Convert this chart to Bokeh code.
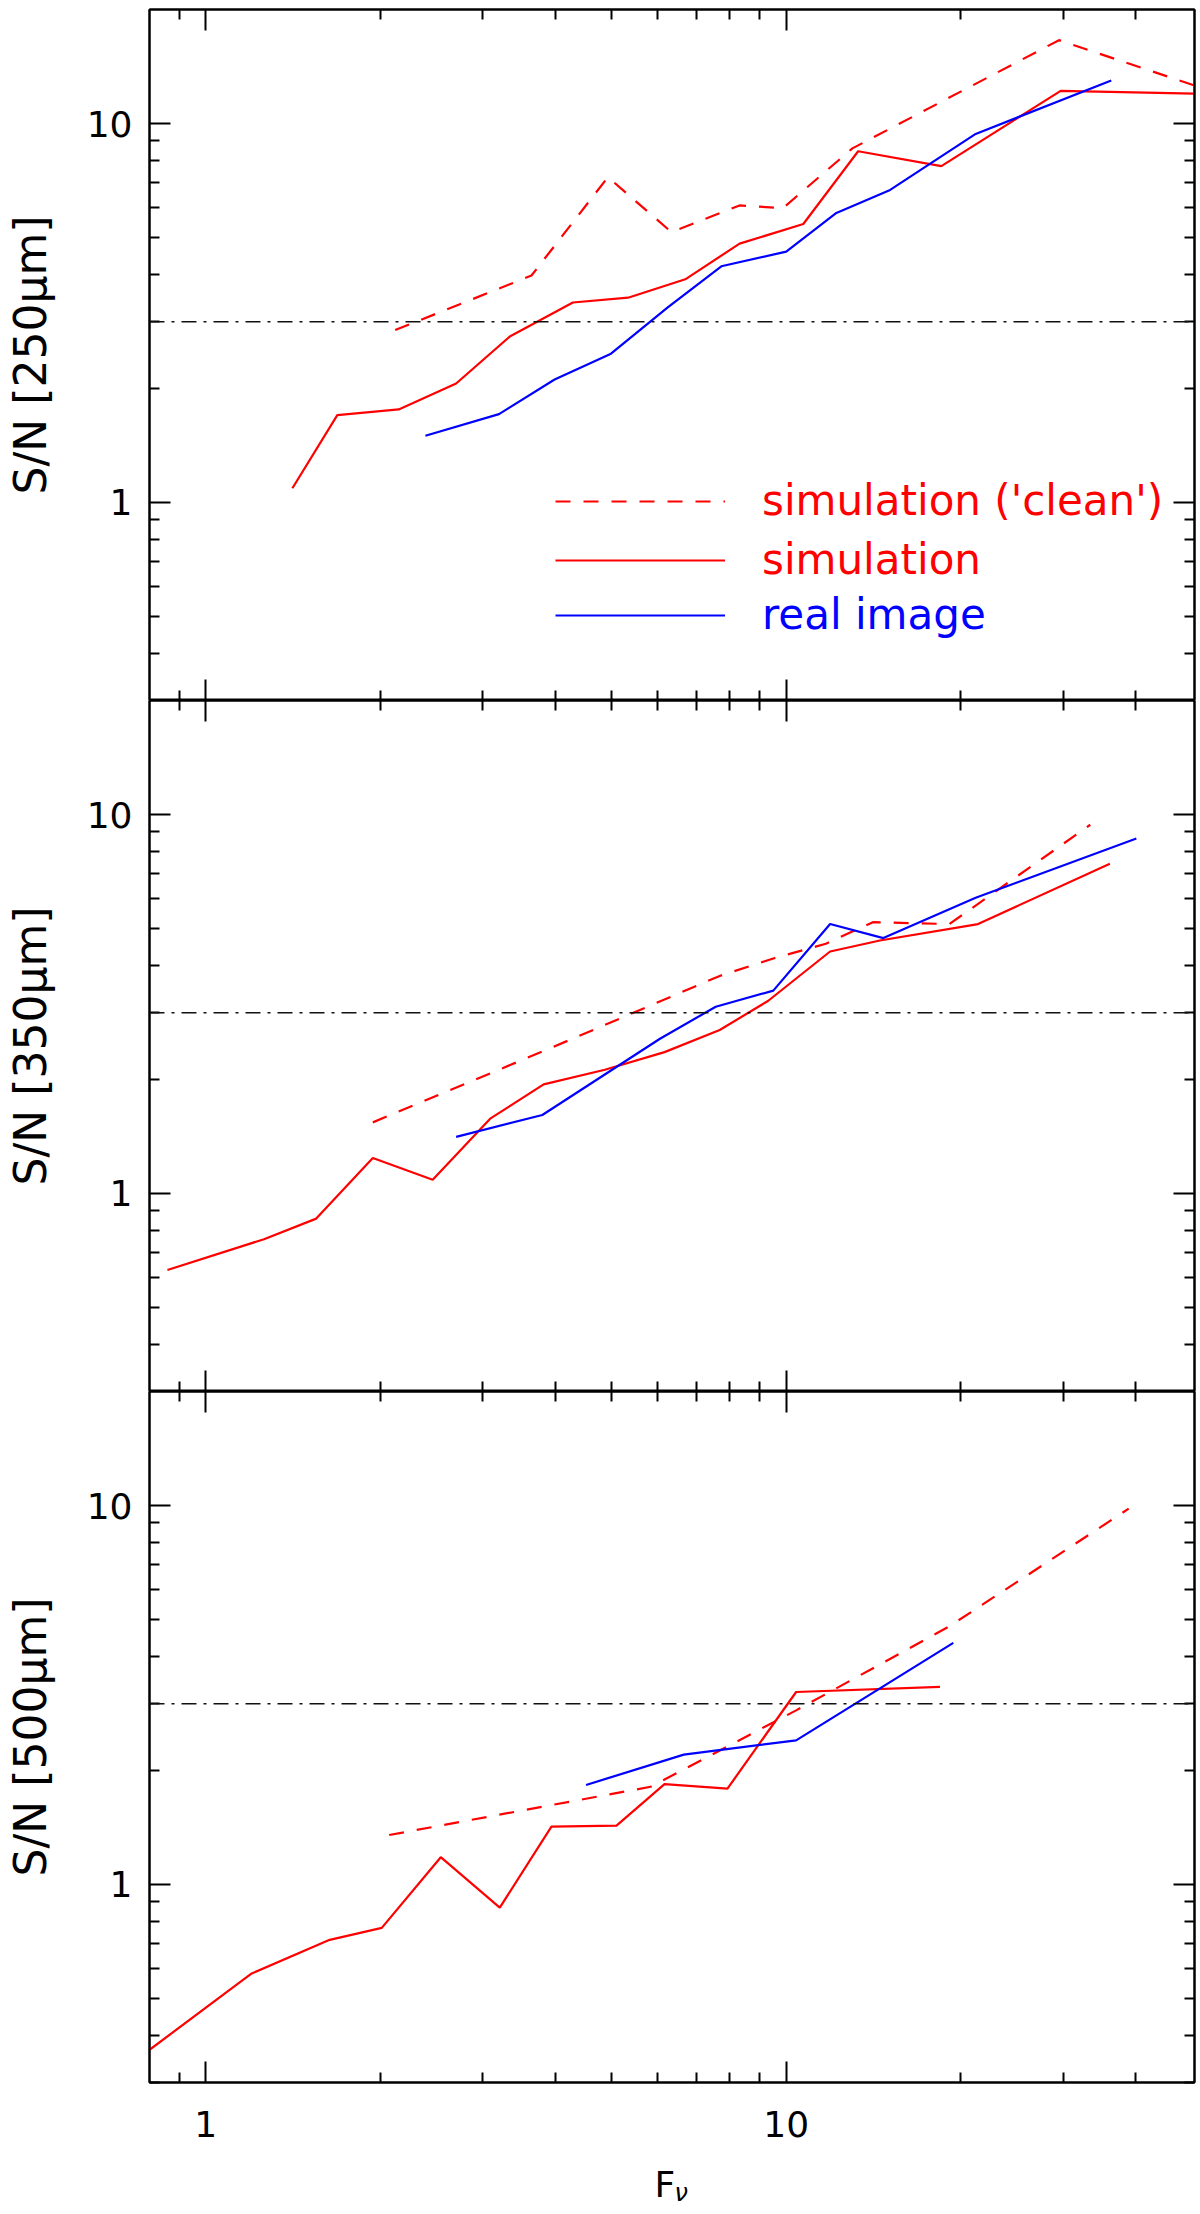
from bokeh.plotting import figure
from bokeh.layouts import column
from bokeh.models import (LogAxis, FixedTicker, NumeralTickFormatter, CustomJSTickFormatter,
                          Legend, LegendItem, Label, Span)
from bokeh.embed import file_html
from bokeh.resources import INLINE

# F_nu bins and S/N values
sim250_x = [1.41, 1.685, 2.15, 2.70, 3.34, 4.29, 5.34, 6.70, 8.31, 10.7, 13.3, 18.5, 29.7, 50.5]
sim250_y = [1.09, 1.70, 1.76, 2.06, 2.74, 3.37, 3.47, 3.88, 4.82, 5.43, 8.45, 7.72, 12.2, 12.0]
clean250_x = [2.12, 3.64, 4.93, 6.34, 8.31, 9.87, 13.0, 29.5, 50.5]
clean250_y = [2.85, 3.97, 7.22, 5.17, 6.08, 5.98, 8.6, 16.6, 12.6]
real250_x = [2.39, 3.20, 3.99, 4.99, 6.25, 7.73, 10.0, 12.2, 15.1, 21.2, 36.3]
real250_y = [1.50, 1.71, 2.11, 2.47, 3.27, 4.20, 4.59, 5.81, 6.68, 9.39, 12.99]

sim350_x = [0.859, 1.26, 1.55, 1.94, 2.46, 3.09, 3.82, 4.87, 6.17, 7.68, 9.30, 11.9, 14.5, 21.4, 36.1]
sim350_y = [0.628, 0.757, 0.858, 1.24, 1.087, 1.575, 1.94, 2.12, 2.36, 2.70, 3.22, 4.35, 4.65, 5.14, 7.42]
clean350_x = [1.94, 3.88, 7.68, 9.5, 11.7, 14.1, 19.1, 33.4]
clean350_y = [1.54, 2.40, 3.75, 4.17, 4.56, 5.20, 5.14, 9.40]
real350_x = [2.70, 3.80, 6.06, 7.56, 9.50, 11.9, 14.7, 21.2, 40.1]
real350_y = [1.41, 1.61, 2.56, 3.11, 3.43, 5.14, 4.72, 6.03, 8.65]

sim500_x = [0.8, 1.20, 1.635, 2.01, 2.54, 3.21, 3.94, 5.10, 6.17, 7.92, 10.4, 18.4]
sim500_y = [0.366, 0.582, 0.714, 0.768, 1.18, 0.868, 1.42, 1.43, 1.84, 1.79, 3.22, 3.32]
clean500_x = [2.07, 5.84, 10.4, 19.1, 38.9]
clean500_y = [1.35, 1.81, 2.88, 4.80, 9.81]
real500_x = [4.52, 6.66, 10.4, 19.4]
real500_y = [1.83, 2.20, 2.40, 4.34]

bands = ["250", "350", "500"]
x_major = [1, 10]
x_minor = [0.9, 2, 3, 4, 5, 6, 7, 8, 9, 20, 30, 40]
y_major = [1, 10]
y_minor = [0.3, 0.4, 0.5, 0.6, 0.7, 0.8, 0.9, 2, 3, 4, 5, 6, 7, 8, 9]
sn_limit = 3

legend_labels = ["simulation ('clean')", "simulation", "real image"]

RED = "#ff0000"
BLUE = "#0000ff"
FONT = "DejaVu Sans"


def style_axis(ax, show_labels):
    ax.major_tick_in = 21
    ax.major_tick_out = 0
    ax.minor_tick_in = 10
    ax.minor_tick_out = 0
    ax.major_tick_line_width = 2
    ax.minor_tick_line_width = 2
    ax.axis_line_width = 2
    ax.major_label_text_font = FONT
    ax.major_label_text_color = "black"
    if show_labels:
        ax.formatter = NumeralTickFormatter(format="0")
        ax.major_label_text_font_size = "36px"
    else:
        ax.formatter = CustomJSTickFormatter(code="return ''")
        ax.major_label_text_font_size = "0px"
        ax.major_label_standoff = 0


def make_panel(band, sx, sy, cx, cy, rx, ry, first=False, last=False):
    p = figure(x_axis_type="log", y_axis_type="log",
               x_range=(0.8, 50.5), y_range=(0.3, 20),
               frame_width=1045, frame_height=691,
               min_border_left=149, min_border_right=3,
               min_border_top=9 if first else 0,
               min_border_bottom=72 if last else 0,
               output_backend="svg", toolbar_location=None,
               outline_line_color="black", outline_line_width=2)
    p.xgrid.visible = False
    p.ygrid.visible = False

    xt = FixedTicker(ticks=x_major, minor_ticks=x_minor)
    yt = FixedTicker(ticks=y_major, minor_ticks=y_minor)
    p.add_layout(LogAxis(ticker=xt), "above")
    p.add_layout(LogAxis(ticker=yt), "right")

    for ax in p.xaxis:
        ax.ticker = xt
        style_axis(ax, False)
    for ax in p.yaxis:
        ax.ticker = yt
        style_axis(ax, False)

    left = p.left[0]
    style_axis(left, True)
    left.major_label_standoff = 17
    left.axis_label = "S/N [%s\u03bcm]" % band
    left.axis_label_text_font = FONT
    left.axis_label_text_font_size = "44px"
    left.axis_label_text_font_style = "normal"
    left.axis_label_text_color = "black"
    left.axis_label_standoff = 28

    if last:
        bottom = p.below[0]
        style_axis(bottom, True)
        bottom.major_label_standoff = 28

    p.add_layout(Span(location=sn_limit, dimension="width", line_color="#111111",
                      line_width=1.5, line_dash="15 7 3 7"))

    r_clean = p.line(cx, cy, line_color=RED, line_width=2.2, line_dash="15 13")
    r_sim = p.line(sx, sy, line_color=RED, line_width=2.2)
    r_real = p.line(rx, ry, line_color=BLUE, line_width=2.2)

    if first:
        rows = [(r_clean, RED, 175), (r_sim, RED, 116), (r_real, BLUE, 61)]
        for (r, col, yb), lab in zip(rows, legend_labels):
            leg = Legend(items=[LegendItem(label=lab, renderers=[r])],
                         location=(406, yb), padding=0, margin=0,
                         glyph_width=170, glyph_height=46, label_height=46,
                         label_standoff=37, label_text_font=FONT,
                         label_text_font_size="42px", label_text_color=col,
                         border_line_alpha=0, background_fill_alpha=0)
            p.add_layout(leg)
    return p


p1 = make_panel(bands[0], sim250_x, sim250_y, clean250_x, clean250_y,
                real250_x, real250_y, first=True)
p2 = make_panel(bands[1], sim350_x, sim350_y, clean350_x, clean350_y,
                real350_x, real350_y)
p3 = make_panel(bands[2], sim500_x, sim500_y, clean500_x, clean500_y,
                real500_x, real500_y, last=True)

# strip under the last panel that carries the x-axis title F_nu
title_strip = figure(frame_width=1045, frame_height=54, min_border_left=149,
                     min_border_right=3, min_border_top=0, min_border_bottom=0,
                     x_range=(0, 1), y_range=(0, 1),
                     x_axis_location=None, y_axis_location=None,
                     output_backend="svg", toolbar_location=None,
                     outline_line_color=None)
title_strip.xgrid.visible = False
title_strip.ygrid.visible = False
title_strip.add_layout(Label(x=505, y=24, x_units="screen", y_units="screen",
                             text="F", text_font=FONT, text_font_size="36px",
                             text_color="black", text_baseline="alphabetic"))
title_strip.add_layout(Label(x=525, y=16, x_units="screen", y_units="screen",
                             text="\u03bd", text_font=FONT, text_font_size="24px",
                             text_font_style="italic", text_color="black",
                             text_baseline="alphabetic"))

p = column(p1, p2, p3, title_strip)
open("out.html", "w").write(file_html(p, INLINE))
